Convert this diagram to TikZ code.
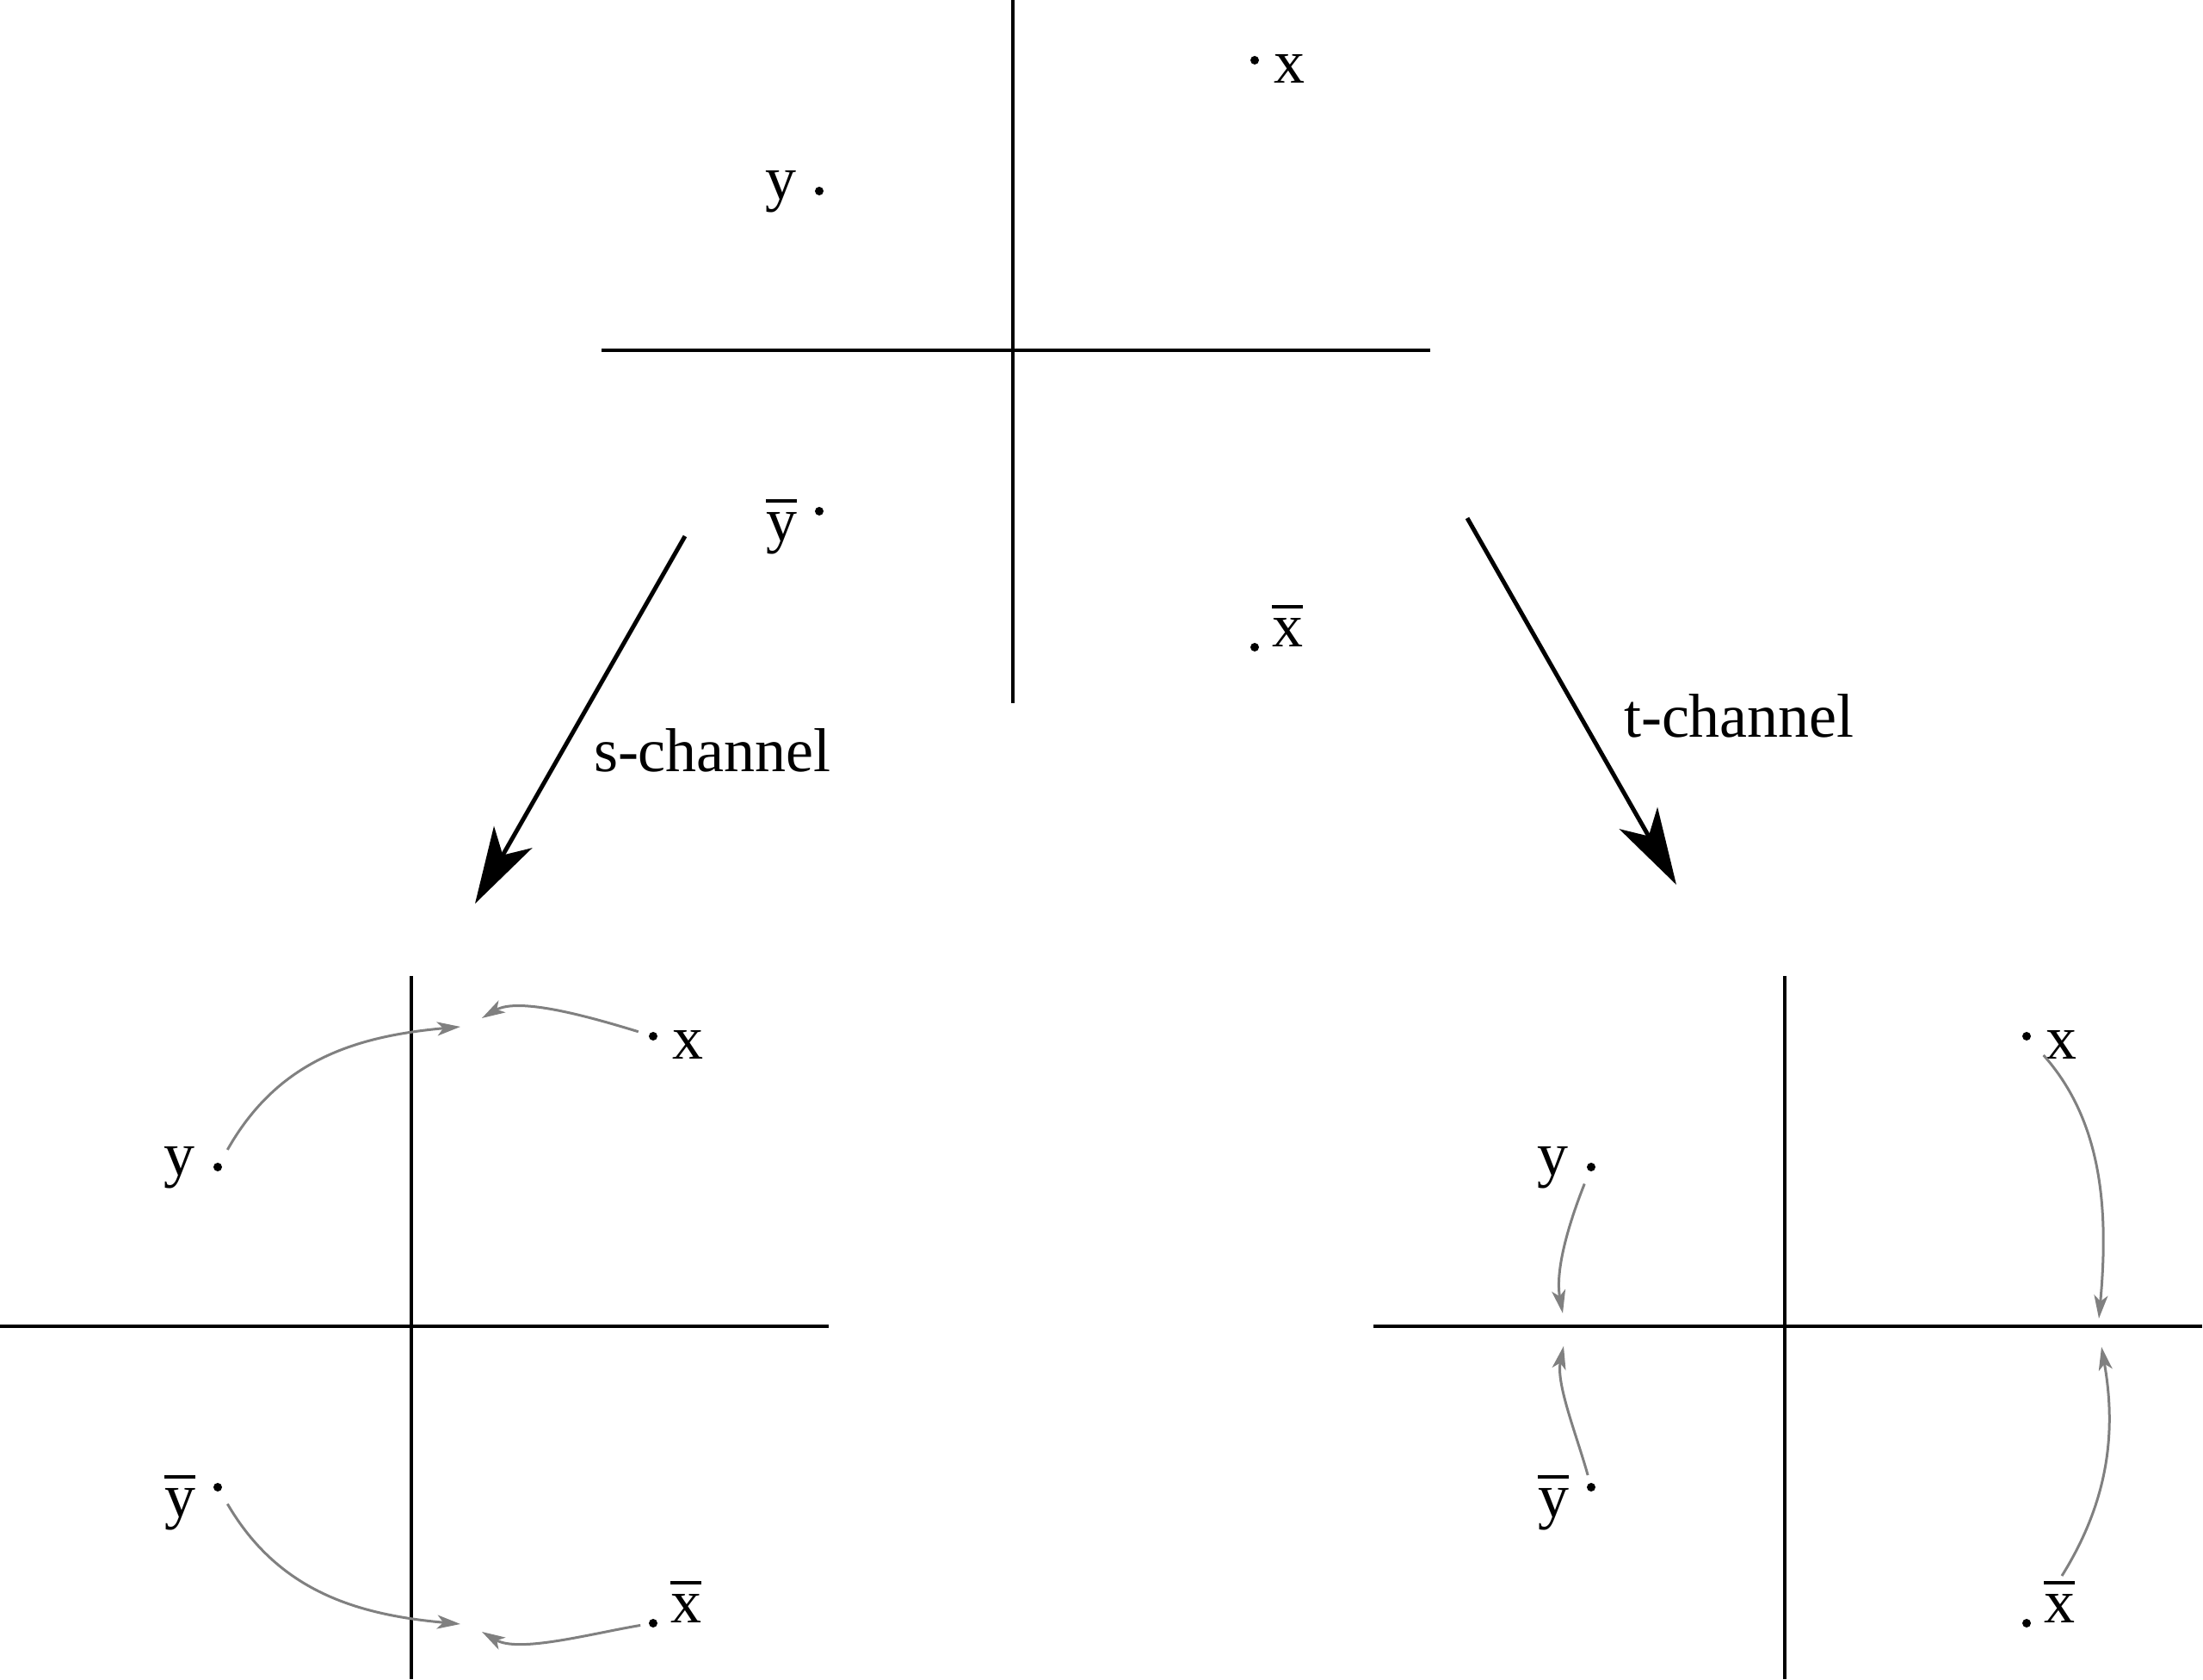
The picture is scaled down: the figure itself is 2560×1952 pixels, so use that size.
\documentclass[tikz,border=0pt]{standalone}
\usepackage{fontspec}
\setmainfont{Liberation Serif}
\usetikzlibrary{arrows.meta}
\tikzset{
  axisline/.style={line width=0.38pt},
  dotnode/.style={circle, fill=black, inner sep=0pt, minimum size=1.0pt},
  lbl/.style={inner sep=0pt, font=\fontsize{7.2}{8.6}\selectfont},
  chanarrow/.style={line width=0.5pt, -{Stealth[length=8.9pt,width=5.1pt,inset=2.4pt]}},
  grayarrow/.style={gray, line width=0.3pt, -{Stealth[length=2.7pt,width=1.6pt,inset=0.7pt]}},
}
\newcommand{\myplane}[1]{%
  \coordinate (#1L) at (-478,0);
  \coordinate (#1R) at (485,0);
  \coordinate (#1T) at (0,-407);
  \coordinate (#1B) at (0,410);
  \draw[axisline] (#1L) -- (#1R);
  \draw[axisline] (#1T) -- (#1B);
  \node[dotnode] (#1X) at (281,-337) {};
  \node[lbl, anchor=base west] (#1Xl) at (301,-310) {x};
  \node[dotnode] (#1Y) at (-225,-185) {};
  \node[lbl, anchor=base east] (#1Yl) at (-250,-175) {y};
  \node[dotnode] (#1YB) at (-225,187) {};
  \node[lbl, anchor=base east] (#1YBl) at (-249,222) {$\overline{\mbox{y}}$};
  \node[dotnode] (#1XB) at (281,345) {};
  \node[lbl, anchor=base west] (#1XBl) at (299,345) {$\overline{\mbox{x}}$};
}
\begin{document}
\begin{tikzpicture}[x=0.1pt, y=-0.1pt]
\useasboundingbox (0,0) rectangle (2560,1952);

% top diagram
\begin{scope}[shift={(1177,407)}]
  \myplane{t}
\end{scope}

% channel arrows
\coordinate (sA) at (796,623);
\coordinate (sAt) at (552,1050);
\coordinate (tA) at (1705,602);
\coordinate (tAt) at (1948,1028);
\draw[chanarrow] (sA) -- (sAt);
\draw[chanarrow] (tA) -- (tAt);
\node[lbl, anchor=base west] (slab) at (688,897) {s-channel};
\node[lbl, anchor=base west] (tlab) at (1885,857) {t-channel};

% s-channel diagram
\begin{scope}[shift={(478,1541)}]
  \myplane{s}
  \coordinate (sE1) at (57,-348);
  \coordinate (sE2) at (82,-358);
  \coordinate (sE3) at (57,346);
  \coordinate (sE4) at (82,355);
  \draw[grayarrow, shorten <=1.6pt] (sY) .. controls (-155,-309) and (-65,-337) .. (sE1);
  \draw[grayarrow, shorten <=1.1pt] (sX) .. controls (209,-359) and (125,-383) .. (sE2);
  \draw[grayarrow, shorten <=1.55pt] (sYB) .. controls (-155,307) and (-65,335) .. (sE3);
  \draw[grayarrow, shorten <=0.8pt] (sXB) .. controls (209,357) and (125,380) .. (sE4);
\end{scope}

% t-channel diagram
\begin{scope}[shift={(2074,1541)}]
  \myplane{u}
  \coordinate (uE1) at (-258,-15);
  \coordinate (uE2) at (-257,23);
  \coordinate (uE3) at (365,-9);
  \coordinate (uE4) at (368,24);
  \coordinate (uS4) at (322,290);
  \draw[grayarrow, shorten <=1.4pt] (uY) .. controls (-252,-117) and (-267,-64) .. (uE1);
  \draw[grayarrow, shorten <=0.75pt] (uYB) .. controls (-241.5,127.5) and (-266,67) .. (uE2);
  \draw[grayarrow, shorten <=2.25pt] (uX) .. controls (371,-236) and (376,-130) .. (uE3);
  \draw[grayarrow] (uS4) .. controls (375,205) and (386,125) .. (uE4);
\end{scope}
\end{tikzpicture}
\end{document}
